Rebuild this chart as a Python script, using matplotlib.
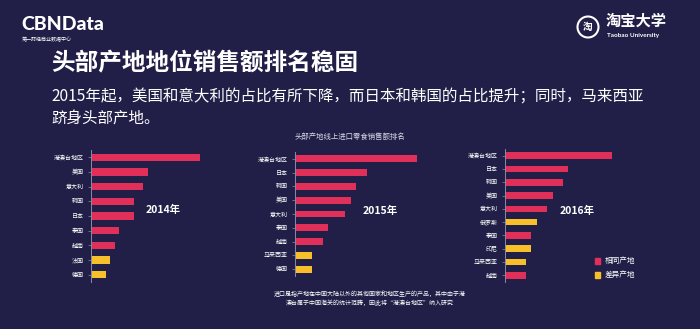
import matplotlib
matplotlib.use('Agg')
import matplotlib.pyplot as plt
from matplotlib.patches import Rectangle, Ellipse

plt.rcParams['font.family'] = ['Noto Sans CJK SC', 'DejaVu Sans']

# Values (relative bar lengths, ranked per year).
origins_2014 = ['港澳台地区', '美国', '意大利', '韩国', '日本', '泰国', '越南', '法国', '德国']
sales_2014 = [109, 57, 52, 43, 43, 28, 24, 19, 15]
diff_2014 = [0, 0, 0, 0, 0, 0, 0, 1, 1]

origins_2015 = ['港澳台地区', '日本', '韩国', '美国', '意大利', '泰国', '越南', '马来西亚', '德国']
sales_2015 = [122, 72, 61, 56, 50, 33, 28, 17, 17]
diff_2015 = [0, 0, 0, 0, 0, 0, 0, 1, 1]

origins_2016 = ['港澳台地区', '日本', '韩国', '美国', '意大利', '俄罗斯', '泰国', '印尼', '马来西亚', '越南']
sales_2016 = [107, 63, 58, 48, 42, 32, 26, 26, 21, 21]
diff_2016 = [0, 0, 0, 0, 0, 1, 0, 1, 1, 0]

BG = '#211f47'
RED = '#e0305a'
YELLOW = '#f7c02b'
W, H = 700, 329

fig = plt.figure(figsize=(7, 3.29), dpi=100)
fig.patch.set_facecolor(BG)


def fx(x):
	return x / W


def fy(y):
	return 1 - y / H


def panel(left, top, width, height, xmax, labels, values, flags, year, year_xy):
	"""One ranked bar panel, placed in pixel coordinates."""
	ax = fig.add_axes([fx(left), fy(top + height), width / W, height / H])
	ax.set_facecolor('none')
	colors = [YELLOW if f else RED for f in flags]
	ax.barh(range(len(values)), values, height=0.5, color=colors)
	ax.set_xlim(0, xmax)
	ax.set_ylim(len(values) - 0.5, -0.5)
	ax.set_yticks(range(len(values)))
	ax.set_yticklabels(labels, fontsize=4.3, color='white')
	ax.tick_params(axis='y', length=2, width=0.5, color='#8a8aa8', pad=3)
	ax.set_xticks([])
	for s in ['top', 'right', 'bottom']:
		ax.spines[s].set_visible(False)
	ax.spines['left'].set_color('#8a8aa8')
	ax.spines['left'].set_linewidth(0.7)
	fig.text(fx(year_xy[0]), fy(year_xy[1]), year, color='white', fontsize=7.5,
		fontweight='bold', ha='center', va='center')
	return ax


panel(91, 150, 125, 132, 125, origins_2014, sales_2014, diff_2014, '2014年', (163, 210))
panel(295, 152, 130, 124, 130, origins_2015, sales_2015, diff_2015, '2015年', (380, 211))
panel(505, 149, 125, 133, 125, origins_2016, sales_2016, diff_2016, '2016年', (577, 211))

fig.text(fx(350), fy(137), '头部产地线上进口零食销售额排名', color='#d8d8e4', fontsize=5.3,
	ha='center', va='center')

# legend
for i, (c, t) in enumerate([(RED, '相同产地'), (YELLOW, '差异产地')]):
	y = 261 + i * 14
	fig.patches.append(Rectangle((fx(595), fy(y + 3)), 5 / W, 6 / H, color=c,
		transform=fig.transFigure, figure=fig))
	fig.text(fx(605), fy(y), t, color='white', fontsize=5.5, va='center')

# header
fig.text(fx(21), fy(25), 'CBNData', color='white', fontsize=14, fontweight='black',
	family=['Lato', 'DejaVu Sans'], va='center')
fig.text(fx(22), fy(40), '第一财经商业数据中心', color='white', fontsize=3.6, va='center')
fig.text(fx(51), fy(63), '头部产地地位销售额排名稳固', color='white', fontsize=17,
	fontweight='bold', va='center')
fig.text(fx(51), fy(97), '2015年起，美国和意大利的占比有所下降，而日本和韩国的占比提升；同时，马来西亚',
	color='white', fontsize=11.2, va='center')
fig.text(fx(51), fy(118), '跻身头部产地。', color='white', fontsize=11.2, va='center')

# taobao mark
fig.patches.append(Ellipse((fx(588), fy(27)), 21 / W, 21 / H, edgecolor='white',
	facecolor='none', lw=1.5, transform=fig.transFigure, figure=fig))
fig.text(fx(588), fy(27), '淘', color='white', fontsize=7, fontweight='bold',
	ha='center', va='center')
fig.text(fx(606), fy(21), '淘宝大学', color='white', fontsize=11, fontweight='bold', va='center')
fig.text(fx(607), fy(35), 'Taobao University', color='white', fontsize=4.6,
	fontweight='bold', family=['Lato', 'DejaVu Sans'], va='center')

# footnote
fig.text(fx(370), fy(298), '进口是指产地在中国大陆以外的其他国家和地区生产的产品，其中由于港\n'
	'澳台属于中国海关的统计范畴，因此将“港澳台地区”纳入研究',
	color='white', fontsize=4.3, ha='center', va='center', linespacing=1.5)

fig.savefig('out.png', dpi=100, facecolor=BG)
